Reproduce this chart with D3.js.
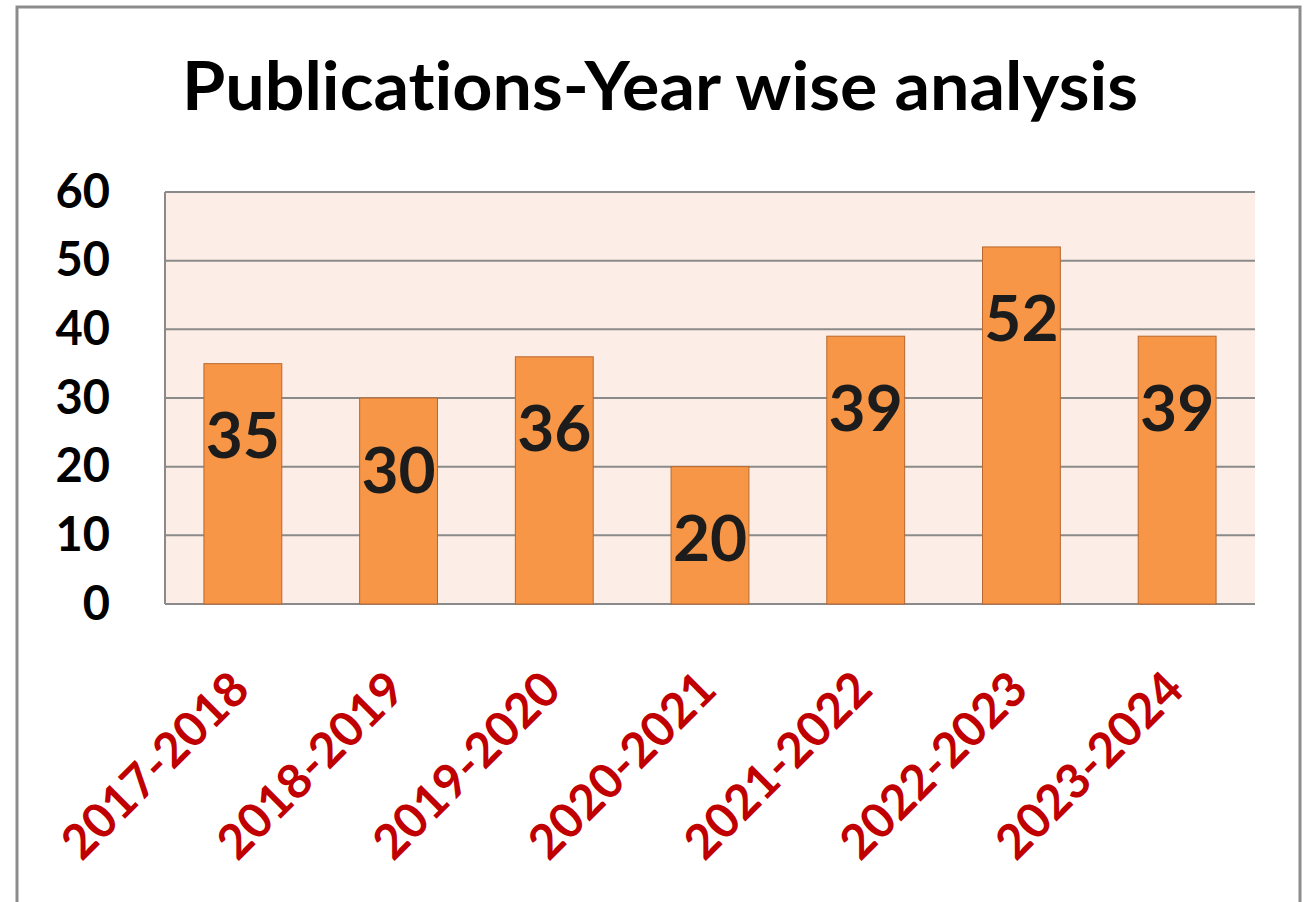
<!DOCTYPE html>
<html><head><meta charset="utf-8">
<script src="https://cdn.jsdelivr.net/npm/d3@7"></script>
<style>body{margin:0;background:#fff}svg{display:block}text{font-family:Lato,"Open Sans",sans-serif;font-weight:700;font-variant-ligatures:none;font-feature-settings:"liga" 0}</style>
</head><body><svg id="c" width="1309" height="902"></svg>
<script>
const categories = ["2017-2018","2018-2019","2019-2020","2020-2021","2021-2022","2022-2023","2023-2024"];
const values = [35,30,36,20,39,52,39];
const yTicks = [0,10,20,30,40,50,60];
const title = "Publications-Year wise analysis";

const svg = d3.select("#c");
svg.append("rect").attr("x",17).attr("y",7).attr("width",1283).attr("height",920)
  .attr("fill","#fff").attr("stroke","#8c8c8c").attr("stroke-width",3);

const m = {l:165, r:1255, t:192, b:604};
const x = d3.scaleBand().domain(categories).range([m.l,m.r]).paddingInner(0.5).paddingOuter(0.25);
const y = d3.scaleLinear().domain([0,60]).range([m.b,m.t]);

svg.append("rect").attr("x",m.l).attr("y",m.t).attr("width",m.r-m.l).attr("height",m.b-m.t).attr("fill","#fcede6");

svg.append("g").selectAll("line").data(yTicks).join("line")
  .attr("x1",m.l).attr("x2",m.r).attr("y1",d=>y(d)).attr("y2",d=>y(d))
  .attr("stroke","#8a8a8a").attr("stroke-width",2);
svg.append("line").attr("x1",m.l).attr("x2",m.l).attr("y1",m.t).attr("y2",m.b).attr("stroke","#8a8a8a").attr("stroke-width",2);

svg.append("g").selectAll("rect").data(values).join("rect")
  .attr("x",(d,i)=>x(categories[i])).attr("width",x.bandwidth())
  .attr("y",d=>y(d)).attr("height",d=>y(0)-y(d))
  .attr("fill","#f79646").attr("stroke","#b9672e").attr("stroke-width",1);

svg.append("g").selectAll("text").data(values).join("text")
  .attr("x",(d,i)=>x(categories[i])+x.bandwidth()/2).attr("y",d=>y(d)+70)
  .attr("text-anchor","middle").attr("dominant-baseline","central")
  .attr("font-size",64).attr("fill","#1c1c1c").text(d=>d);

const yAxis = svg.append("g").attr("transform",`translate(${m.l},0)`)
  .call(d3.axisLeft(y).tickValues(yTicks).tickSize(0).tickPadding(55));
yAxis.select(".domain").remove();
yAxis.selectAll("text").attr("font-size",47).attr("fill","#000").attr("font-family","Lato").attr("font-weight",700);

const xAxis = svg.append("g").attr("transform",`translate(0,${m.b})`)
  .call(d3.axisBottom(x).tickSize(0));
xAxis.select(".domain").remove();
xAxis.selectAll("text")
  .attr("font-size",48).attr("fill","#c00000").attr("font-family","Lato").attr("font-weight",800)
  .attr("text-anchor","end").attr("dy",0).attr("y",0)
  .attr("transform","translate(9,88) rotate(-45)");

svg.append("text").attr("x",660).attr("y",110).attr("text-anchor","middle")
  .attr("font-size",67).attr("fill","#000").attr("textLength",956).attr("lengthAdjust","spacingAndGlyphs").text(title);
</script></body></html>
